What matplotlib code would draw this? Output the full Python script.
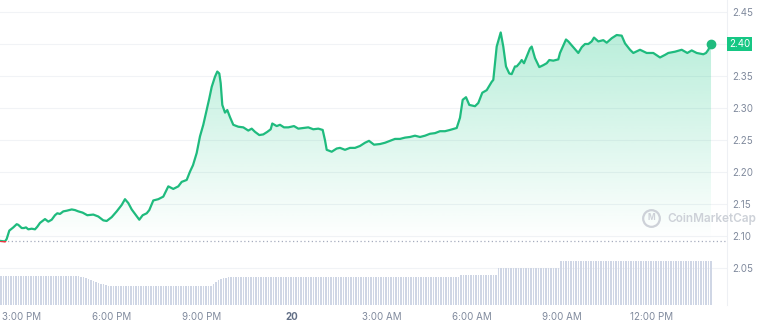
import matplotlib
matplotlib.use("Agg")
import matplotlib.pyplot as plt
import numpy as np
from matplotlib.colors import to_rgb
from matplotlib.patches import Rectangle

GREEN = "#16c784"
LINE_GREEN = "#1fbb7e"
RED = "#ea3943"

# hours after 3:00 PM, price in USD
hours = [
    -0.723, -0.557, -0.500, -0.413, -0.280, -0.167, -0.113, 0.000, 0.077, 0.143,
    0.220, 0.333, 0.443, 0.520, 0.610, 0.777, 0.887, 1.000, 1.110, 1.187,
    1.277, 1.387, 1.500, 1.667, 1.777, 1.887, 2.033, 2.187, 2.387, 2.553,
    2.720, 2.833, 3.000, 3.167, 3.333, 3.443, 3.553, 3.667, 3.810, 3.920,
    4.033, 4.167, 4.253, 4.387, 4.553, 4.720, 4.887, 5.053, 5.220, 5.333,
    5.500, 5.610, 5.710, 5.833, 5.943, 6.053, 6.167, 6.253, 6.333, 6.443,
    6.520, 6.587, 6.633, 6.687, 6.777, 6.853, 6.943, 7.053, 7.220, 7.387,
    7.553, 7.667, 7.777, 7.920, 8.053, 8.187, 8.300, 8.353, 8.500, 8.610,
    8.743, 8.887, 9.077, 9.220, 9.387, 9.553, 9.720, 9.887, 10.033, 10.110,
    10.167, 10.333, 10.500, 10.610, 10.777, 10.943, 11.110, 11.277, 11.443, 11.577,
    11.743, 11.943, 12.110, 12.277, 12.443, 12.610, 12.777, 12.943, 13.110, 13.277,
    13.443, 13.610, 13.777, 13.943, 14.110, 14.277, 14.500, 14.610, 14.700, 14.810,
    14.920, 15.110, 15.220, 15.353, 15.500, 15.667, 15.720, 15.833, 15.967, 16.053,
    16.143, 16.253, 16.333, 16.443, 16.500, 16.610, 16.667, 16.743, 16.943, 17.000,
    17.110, 17.253, 17.387, 17.500, 17.587, 17.720, 17.887, 17.943, 18.143, 18.220,
    18.387, 18.553, 18.667, 18.777, 18.887, 19.000, 19.077, 19.220, 19.387, 19.500,
    19.667, 19.833, 20.000, 20.110, 20.277, 20.387, 20.610, 20.833, 21.053, 21.277,
    21.443, 21.553, 21.777, 22.000, 22.187, 22.333, 22.500, 22.720, 22.810, 22.887,
    22.977,
]
price = [
    2.093, 2.092, 2.096, 2.109, 2.114, 2.119, 2.118, 2.113, 2.113, 2.114,
    2.111, 2.112, 2.111, 2.115, 2.121, 2.127, 2.123, 2.126, 2.133, 2.136,
    2.135, 2.139, 2.140, 2.142, 2.141, 2.139, 2.137, 2.133, 2.134, 2.131,
    2.125, 2.124, 2.130, 2.139, 2.149, 2.158, 2.152, 2.142, 2.133, 2.126,
    2.133, 2.136, 2.141, 2.156, 2.158, 2.162, 2.178, 2.174, 2.178, 2.185,
    2.188, 2.201, 2.211, 2.230, 2.256, 2.274, 2.297, 2.315, 2.333, 2.349,
    2.357, 2.354, 2.339, 2.305, 2.293, 2.297, 2.286, 2.274, 2.271, 2.270,
    2.265, 2.268, 2.263, 2.258, 2.259, 2.263, 2.267, 2.276, 2.272, 2.274,
    2.270, 2.270, 2.272, 2.268, 2.269, 2.270, 2.267, 2.268, 2.266, 2.250,
    2.235, 2.232, 2.237, 2.238, 2.235, 2.238, 2.238, 2.241, 2.246, 2.249,
    2.243, 2.244, 2.246, 2.249, 2.252, 2.252, 2.254, 2.255, 2.257, 2.255,
    2.257, 2.260, 2.261, 2.264, 2.264, 2.266, 2.269, 2.285, 2.313, 2.317,
    2.305, 2.303, 2.308, 2.324, 2.328, 2.341, 2.344, 2.396, 2.418, 2.396,
    2.365, 2.354, 2.353, 2.365, 2.365, 2.371, 2.375, 2.370, 2.393, 2.396,
    2.378, 2.364, 2.367, 2.370, 2.375, 2.374, 2.376, 2.386, 2.407, 2.404,
    2.395, 2.386, 2.395, 2.400, 2.400, 2.404, 2.410, 2.404, 2.406, 2.402,
    2.409, 2.414, 2.413, 2.401, 2.391, 2.386, 2.391, 2.386, 2.386, 2.379,
    2.383, 2.386, 2.388, 2.391, 2.386, 2.390, 2.386, 2.384, 2.386, 2.391,
    2.400,
]
open_price = 2.093

# 5-minute volume bars (billions USD), as runs of equal level
vol_start = -0.723
vol_step_min = 5
vol_levels = [6.96, 6.84, 6.72, 6.48, 6.24, 6.00, 5.76, 5.52, 5.28, 5.16, 5.04, 4.80,
              4.68, 4.56, 5.04, 5.52, 6.00, 6.24, 6.48, 6.60, 6.72, 7.32, 8.88, 10.68]
vol_counts = [32, 1, 1, 1, 1, 1, 1, 1, 1, 1, 1, 1,
              1, 41, 1, 1, 1, 1, 1, 1, 93, 15, 25, 61]

tick_hours = [0, 3, 6, 9, 12, 15, 18, 21]
tick_labels = ["3:00 PM", "6:00 PM", "9:00 PM", "20", "3:00 AM", "6:00 AM", "9:00 AM", "12:00 PM"]
price_ticks = [2.05, 2.10, 2.15, 2.20, 2.25, 2.30, 2.35, 2.40, 2.45]

plt.rcParams["font.family"] = ["Inter", "DejaVu Sans"]

fig = plt.figure(figsize=(7.6, 3.27), dpi=100)
fig.patch.set_facecolor("white")
ax = fig.add_axes([0, 22 / 327, 727 / 760, 305 / 327])
vax = fig.add_axes([0, 22 / 327, 727 / 760, 50 / 327], sharex=ax)

t = np.array(hours)
p = np.array(price)

# gradient fill between the line and the opening price
grad = np.zeros((256, 1, 4))
grad[..., :3] = to_rgb(GREEN)
grad[:, 0, 3] = np.linspace(0.30, 0.0, 256)
im = ax.imshow(grad, extent=[t[0], t[-1], open_price, p.max()], origin="upper",
               aspect="auto", interpolation="bilinear", zorder=1)
poly = ax.fill_between(t, p, open_price, facecolor="none", edgecolor="none")
im.set_clip_path(poly.get_paths()[0], transform=ax.transData)
ax.fill_between(t, p, open_price, where=p < open_price, interpolate=True,
                color=RED, alpha=0.12, lw=0)

ax.axhline(open_price, color="#a6acbe", lw=0.9, ls=(0, (1, 2)), zorder=2)

up, = ax.plot(t, p, color=LINE_GREEN, lw=1.6, zorder=3, solid_joinstyle="round")
up.set_clip_path(Rectangle((-5, open_price), 40, 1, transform=ax.transData))
dn, = ax.plot(t, p, color=RED, lw=1.6, zorder=3, solid_joinstyle="round")
dn.set_clip_path(Rectangle((-5, open_price - 1), 40, 1, transform=ax.transData))
ax.plot(t[-1], p[-1], "o", color=LINE_GREEN, ms=6, zorder=4, clip_on=False)

# volume
vol = np.repeat(vol_levels, vol_counts)
step = vol_step_min / 60
vol_t = vol_start + np.arange(len(vol)) * step
vax.bar(vol_t, vol, width=step * 0.72, align="edge", color="#cfd6e5", lw=0)
vax.set_ylim(0, 12)
vax.axis("off")
vax.patch.set_alpha(0)

ax.set_xlim(-0.723, 23.51)
ax.set_ylim(1.993, 2.4686)

# the tick at the last price is covered by the price tag
last_label = f"{p[-1]:.2f}"
ax.set_yticks(price_ticks)
ax.set_yticklabels(["" if f"{v:.2f}" == last_label else f"{v:.2f}" for v in price_ticks])
ax.yaxis.tick_right()
ax.yaxis.grid(True, color="#f1f3f6", lw=0.8)
ax.set_axisbelow(True)
ax.tick_params(axis="y", length=0, pad=4, labelsize=7, labelcolor="#808a9d")

ax.set_xticks(tick_hours)
ax.set_xticklabels(tick_labels)
ax.tick_params(axis="x", length=0, pad=5, labelsize=7, labelcolor="#808a9d")
for lbl in ax.get_xticklabels():
    if lbl.get_text() == "20":
        lbl.set_fontweight("bold")
        lbl.set_color("#616e85")

for side in ["left", "top", "bottom"]:
    ax.spines[side].set_visible(False)
ax.spines["right"].set_color("#eef0f4")
ax.spines["right"].set_linewidth(0.8)

# last price tag
ax.annotate(last_label, xy=(1, p[-1]), xycoords=("axes fraction", "data"),
            xytext=(1.5, 0), textcoords="offset points", ha="left", va="center",
            fontsize=7, color="white", annotation_clip=False,
            bbox=dict(boxstyle="square,pad=0.2", fc=GREEN, ec="none"))

# watermark
fig.text(667 / 760, 1 - 219 / 327, "CoinMarketCap", ha="left", va="center",
         fontsize=8.5, fontweight="semibold", color="#cdd1d8")
fig.lines.append(plt.Line2D([651 / 760], [1 - 218 / 327], marker="o", ms=12,
                            mfc="none", mec="#cdd1d8", mew=1.6, transform=fig.transFigure))
fig.text(651 / 760, 1 - 218 / 327, "M", ha="center", va="center",
         fontsize=6, fontweight="bold", color="#cdd1d8")

fig.savefig("out.png", dpi=100, facecolor="white")
